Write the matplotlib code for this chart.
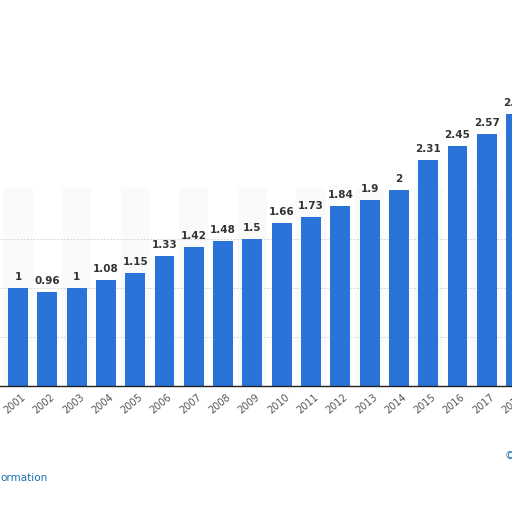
import matplotlib
matplotlib.use("Agg")
import matplotlib.pyplot as plt

years = [str(y) for y in range(2001, 2019)]
values = [1, 0.96, 1, 1.08, 1.15, 1.33, 1.42, 1.48, 1.5, 1.66, 1.73, 1.84, 1.9, 2, 2.31, 2.45, 2.57, 2.78]
labels = ["1", "0.96", "1", "1.08", "1.15", "1.33", "1.42", "1.48", "1.5", "1.66", "1.73", "1.84", "1.9", "2", "2.31", "2.45", "2.57", "2.78"]

fig = plt.figure(figsize=(5.12, 5.12), dpi=100)
ax = fig.add_axes([0, 0, 1, 1])
x = list(range(2001, 2019))
for i, xi in enumerate(x):
    if i % 2 == 0:
        ax.fill_between([xi - 0.5, xi + 0.5], 0, 2.02, color="#fafafa", zorder=0, lw=0)
for g in [0.5, 1.0, 1.5]:
    ax.axhline(g, color="#cccccc", lw=0.6, ls=(0, (2, 2)), zorder=1)
ax.bar(x, values, width=0.68, color="#2a74d9", zorder=2)
ax.axhline(0, color="#222222", lw=1, zorder=3)
for xi, v, l in zip(x, values, labels):
    ax.text(xi, v + 0.06, l, ha="center", va="bottom", fontsize=7.5, fontweight="bold", color="#333333", zorder=4)
for xi, y in zip(x, years):
    ax.text(xi + 0.1, -0.06, y, ha="right", va="top", rotation=40, fontsize=7, color="#555555", rotation_mode="anchor")
ax.set_xlim(2000.386, 2017.86)
ax.set_ylim(-1.286, 3.94)
ax.axis("off")
fig.text(0.0, 0.066, "ormation", color="#1a6fb0", fontsize=7.5, va="center")
fig.text(0.985, 0.11, "©", color="#1a6fb0", fontsize=7.5, va="center")
fig.savefig("out.png", dpi=100)
